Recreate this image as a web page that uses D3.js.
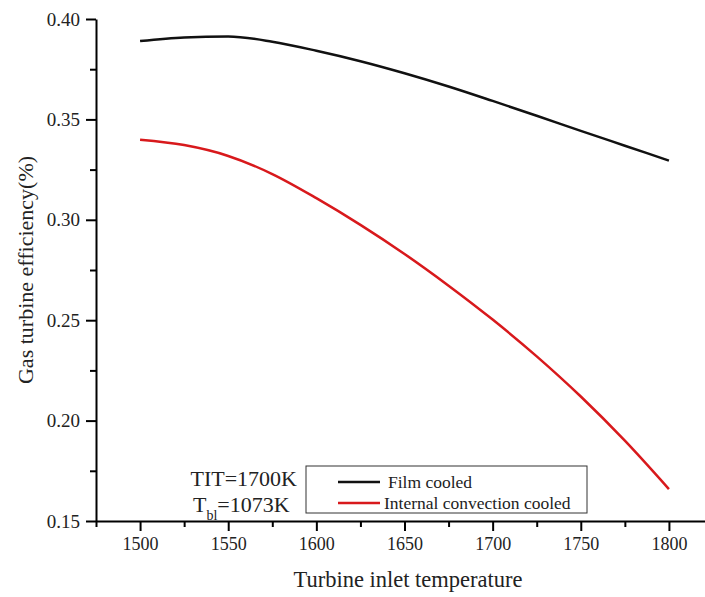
<!DOCTYPE html>
<html>
<head>
<meta charset="utf-8">
<script src="https://cdn.jsdelivr.net/npm/d3@7"></script>
<style>
  body { margin: 0; background: #fff; }
  svg text { font-family: 'Liberation Serif', 'Times New Roman', serif; }
</style>
</head>
<body>
<div class="chart"></div>
<script>
const width = 705;
const height = 597;

// data
const temps = [1500, 1525, 1550, 1575, 1600, 1625, 1650, 1675, 1700, 1725, 1750, 1775, 1800];
const filmCooled = [0.3890, 0.3908, 0.3913, 0.3887, 0.3842, 0.3790, 0.3730, 0.3664, 0.3592, 0.3518, 0.3443, 0.3369, 0.3295];
const internalCooled = [0.3399, 0.3372, 0.3318, 0.3228, 0.3108, 0.2975, 0.2830, 0.2672, 0.2503, 0.2320, 0.2120, 0.1900, 0.1659];
const xTicks = [1500, 1550, 1600, 1650, 1700, 1750, 1800];
const yTicks = [0.15, 0.20, 0.25, 0.30, 0.35, 0.40];
const seriesNames = ['Film cooled', 'Internal convection cooled'];
const seriesColors = ['#111', '#d8191c'];

const serif = "'Liberation Serif', 'Times New Roman', serif";

const svg = d3
  .select('.chart')
  .append('svg')
  .attr('width', width)
  .attr('height', height);

const x = d3.scaleLinear().domain([1475, 1825]).range([96, 713]);
const y = d3.scaleLinear().domain([0.15, 0.40]).range([521, 19]);

// minor ticks first, then major ticks on top
svg
  .append('g')
  .attr('transform', 'translate(0,521)')
  .call(d3.axisBottom(x).tickValues(d3.range(1475, 1826, 50)).tickSize(6).tickSizeOuter(0).tickFormat(''))
  .call((g) => g.select('.domain').remove())
  .selectAll('line')
  .attr('stroke-width', 2);

svg
  .append('g')
  .attr('transform', 'translate(0,521)')
  .call(d3.axisBottom(x).tickValues(xTicks).tickSize(10).tickSizeOuter(0).tickPadding(6).tickFormat(d3.format('d')))
  .call((g) => {
    g.select('.domain').attr('stroke-width', 2);
    g.selectAll('line').attr('stroke-width', 2);
    g.selectAll('text')
      .style('font-family', serif)
      .style('font-size', '18px')
      .attr('fill', '#222');
  });

svg
  .append('g')
  .attr('transform', 'translate(96,0)')
  .call(d3.axisLeft(y).tickValues(d3.range(0.175, 0.4, 0.05)).tickSize(6).tickSizeOuter(0).tickFormat(''))
  .call((g) => g.select('.domain').remove())
  .selectAll('line')
  .attr('stroke-width', 2);

svg
  .append('g')
  .attr('transform', 'translate(96,0)')
  .call(d3.axisLeft(y).tickValues(yTicks).tickSize(10).tickSizeOuter(0).tickPadding(6).tickFormat(d3.format('.2f')))
  .call((g) => {
    g.select('.domain').attr('stroke-width', 2);
    g.selectAll('line').attr('stroke-width', 2);
    g.selectAll('text')
      .style('font-family', serif)
      .style('font-size', '19px')
      .attr('fill', '#222');
  });

// curves
const line = d3
  .line()
  .x((d, i) => x(temps[i]))
  .y((d) => y(d))
  .curve(d3.curveMonotoneX);

[filmCooled, internalCooled].forEach((s, i) => {
  svg
    .append('path')
    .datum(s)
    .attr('fill', 'none')
    .attr('stroke', seriesColors[i])
    .attr('stroke-width', 2.5)
    .attr('d', line);
});

// axis titles
svg
  .append('text')
  .attr('x', 408)
  .attr('y', 587)
  .attr('text-anchor', 'middle')
  .attr('font-size', 22.5)
  .attr('fill', '#222')
  .text('Turbine inlet temperature');

svg
  .append('text')
  .attr('transform', 'translate(33,270) rotate(-90)')
  .attr('text-anchor', 'middle')
  .attr('font-size', 22)
  .attr('fill', '#222')
  .text('Gas turbine efficiency(%)');

// annotation
svg
  .append('text')
  .attr('x', 297)
  .attr('y', 486)
  .attr('text-anchor', 'end')
  .attr('font-size', 22)
  .attr('fill', '#222')
  .text('TIT=1700K');

const t2 = svg
  .append('text')
  .attr('x', 193)
  .attr('y', 512)
  .attr('font-size', 22)
  .attr('fill', '#222');
t2.append('tspan').text('T');
t2.append('tspan').attr('dy', 8).attr('font-size', 14).text('bl');
t2.append('tspan').attr('dy', -8).text('=1073K');

// legend
const legend = svg.append('g');
legend
  .append('rect')
  .attr('x', 306)
  .attr('y', 466)
  .attr('width', 281)
  .attr('height', 47)
  .attr('fill', '#fff')
  .attr('stroke', '#333')
  .attr('stroke-width', 1);

seriesNames.forEach((name, i) => {
  const ly = 482 + i * 21;
  legend
    .append('line')
    .attr('x1', 338)
    .attr('x2', 380)
    .attr('y1', ly)
    .attr('y2', ly)
    .attr('stroke', seriesColors[i])
    .attr('stroke-width', 2.5);
  legend
    .append('text')
    .attr('x', i === 0 ? 388 : 384)
    .attr('y', ly + 6)
    .attr('font-size', 17.5)
    .attr('fill', '#222')
    .text(name);
});
</script>
</body>
</html>
